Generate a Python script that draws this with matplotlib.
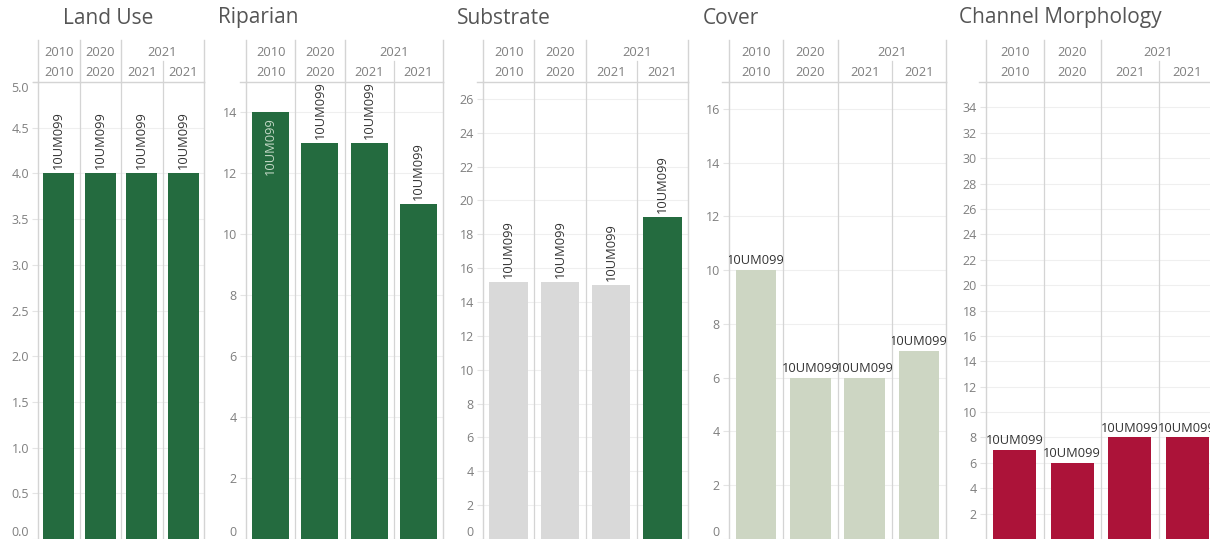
import numpy as np
import matplotlib
matplotlib.use('Agg')
import matplotlib.pyplot as plt
from matplotlib.transforms import Bbox, TransformedBbox

plt.rcParams['font.family'] = ['Open Sans', 'DejaVu Sans']

# data
panels = ['Land Use', 'Riparian', 'Substrate', 'Cover', 'Channel Morphology']
years_top = ['2010', '2020', '2021']
years = ['2010', '2020', '2021', '2021']
site = '10UM099'
land_use = [4, 4, 4, 4]
riparian = [14, 13, 13, 11]
substrate = [15.2, 15.2, 15.0, 19]
cover = [10, 6, 6, 7]
channel = [7, 6, 8, 8]
values = [land_use, riparian, substrate, cover, channel]

# styling / layout
GREEN, GREY, SAGE, RED = '#246b3f', '#d9d9d9', '#cdd6c3', '#ac1339'
bar_colors = [[GREEN] * 4, [GREEN] * 4, [GREY, GREY, GREY, GREEN], [SAGE] * 4, [RED] * 4]
ymaxes = [5, 15, 27, 17, 36]
tick_sets = [np.arange(0, 5.01, 0.5), np.arange(0, 15, 2), np.arange(0, 27, 2),
             np.arange(0, 17, 2), np.arange(2, 35, 2)]
rotated = [True, True, True, False, False]

W, H = 1210, 539
left_px = [38, 246, 483, 729, 986]
right_px = [204, 443, 688, 946, 1216]
title_px = [63, 218, 457, 703, 959]
top_px, mid_px, head_px, bottom_px = 40, 61, 82, 539
LINE = '#d4d4d4'
TXT = '#7f7f7f'

fig = plt.figure(figsize=(W / 100, H / 100), dpi=100)

for i, name in enumerate(panels):
    l, r = left_px[i], right_px[i]
    vals = values[i]
    ymax = ymaxes[i]
    ax = fig.add_axes([l / W, 1 - bottom_px / H, (r - l) / W, (bottom_px - head_px) / H])
    x = np.arange(len(vals))
    ax.bar(x, vals, width=0.75, color=bar_colors[i], zorder=2)
    ax.set_xlim(-0.5, 3.5)
    ax.set_ylim(0, ymax)
    ax.set_xticks([])
    ax.set_yticks(tick_sets[i])
    if i == 0:
        ax.set_yticklabels(['%.1f' % t for t in tick_sets[i]])
    ax.yaxis.grid(True, color='#efefef', lw=0.8)
    ax.set_axisbelow(True)
    for b in (0.5, 1.5, 2.5):
        ax.axvline(b, color=LINE, lw=0.9, zorder=1)
    for s in ('top', 'bottom'):
        ax.spines[s].set_visible(False)
    for s in ('left', 'right'):
        ax.spines[s].set_color(LINE)
        ax.spines[s].set_linewidth(1.0)
    ax.tick_params(axis='y', length=4.5, color='#e4e4e4', labelcolor=TXT, labelsize=9, pad=2)
    labels = ax.get_yticklabels()
    if tick_sets[i][0] == 0:
        labels[0].set_verticalalignment('bottom')
    if tick_sets[i][-1] == ymax:
        labels[-1].set_verticalalignment('top')

    # mark labels, clipped to their column
    px_per_unit = (bottom_px - head_px) / ymax
    for j, v in enumerate(vals):
        if rotated[i]:
            if (ymax - v) * px_per_unit < 58:
                t = ax.annotate(site, (j, v), xytext=(0, -3), textcoords='offset points',
                                rotation=90, ha='center', va='top', fontsize=9.3,
                                color='#c3d8c6', zorder=3)
            else:
                t = ax.annotate(site, (j, v), xytext=(0, 3), textcoords='offset points',
                                rotation=90, ha='center', va='bottom', fontsize=9.3,
                                color='#333333', zorder=3)
        else:
            t = ax.annotate(site, (j, v), xytext=(0, 2), textcoords='offset points',
                            ha='center', va='bottom', fontsize=9.3, color='#333333', zorder=3)
        t.set_clip_on(True)
        t.set_clip_box(TransformedBbox(Bbox([[j - 0.5, 0], [j + 0.5, ymax]]), ax.transData))

    # column header
    hx = fig.add_axes([l / W, 1 - head_px / H, (r - l) / W, (head_px - top_px) / H])
    hx.set_xlim(-0.5, 3.5)
    hx.set_ylim(0, 2)
    hx.axis('off')
    hx.plot([-0.62, 3.5], [0, 0], color=LINE, lw=1.0, clip_on=False)
    for b in (-0.5, 0.5, 1.5, 3.5):
        hx.plot([b, b], [0, 2], color=LINE, lw=1.0, clip_on=False)
    hx.plot([2.5, 2.5], [0, 1], color=LINE, lw=0.9)
    for xpos, yr in zip([0, 1, 2.5], years_top):
        hx.text(xpos, 1.4, yr, ha='center', va='center', fontsize=9.3, color=TXT)
    for xpos, yr in enumerate(years):
        hx.text(xpos, 0.45, yr, ha='center', va='center', fontsize=9.3, color=TXT)

    fig.text(title_px[i] / W, 1 - 18 / H, name, ha='left', va='center', fontsize=15, color='#555555')

fig.savefig('out.png', dpi=100)
